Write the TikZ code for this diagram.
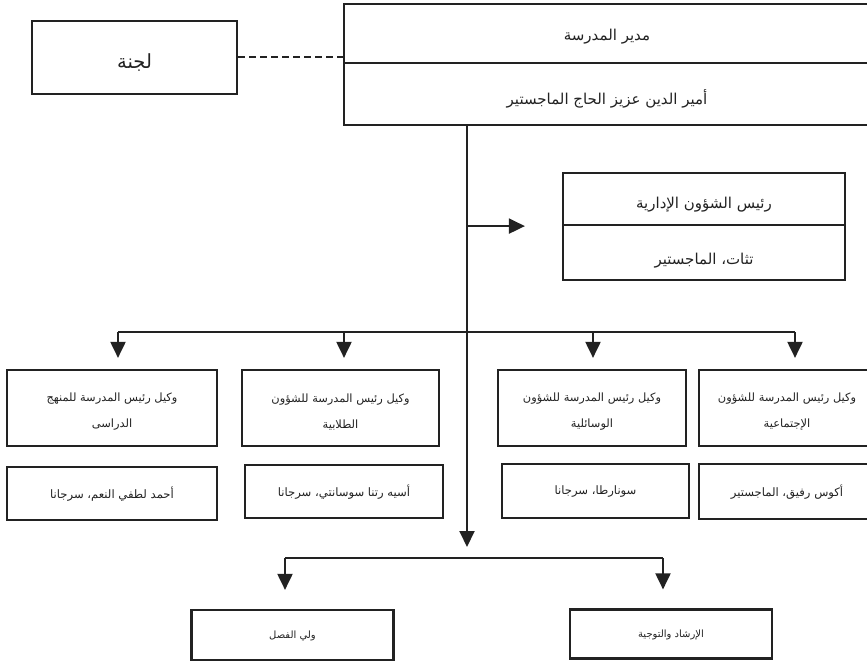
\documentclass[tikz,border=0pt]{standalone}
\usepackage{fontspec}
\usetikzlibrary{arrows.meta}
\TeXXeTstate=1
\newfontfamily\arabicfont[Script=Arabic]{DejaVu Sans}
\definecolor{ink}{HTML}{222222}
\newcommand{\artx}[2][0pt]{\raisebox{-#1}[\height][\depth]{\beginR #2\endR}}
\tikzset{
  box/.style={draw=ink, line width=2.2pt, rectangle, inner sep=0pt, align=center, text=ink},
  rowtxt/.style={font=\arabicfont\fontsize{11.4}{26}\selectfont},
  nametxt/.style={font=\arabicfont\fontsize{11.6}{14}\selectfont},
  bottxt/.style={font=\arabicfont\fontsize{10}{12}\selectfont},
  bigtxt/.style={font=\arabicfont\fontsize{15}{18}\selectfont},
  lajtxt/.style={font=\arabicfont\fontsize{19.5}{22}\selectfont},
  link/.style={draw=ink, line width=2pt},
  arr/.style={draw=ink, line width=2pt, -{Triangle[width=15pt,length=16pt]}},
  dashlink/.style={draw=ink, line width=2pt, dash pattern=on 7pt off 4pt}
}
\begin{document}
\begin{tikzpicture}[x=1pt,y=-1pt]
\useasboundingbox (0,0) rectangle (867,661);
% committee
\node[box, lajtxt, minimum width=205pt, minimum height=73pt] (lajna) at (134.5,57.5) {\artx[5pt]{لجنة}};
% head
\node[box, bigtxt, minimum width=526pt, minimum height=59pt] (mudir) at (607,33.5) {\artx[3.5pt]{مدير المدرسة}};
\node[box, bigtxt, minimum width=526pt, minimum height=62pt] (amir) at (607,94) {\artx[4.5pt]{أمير الدين عزيز الحاج الماجستير}};
% administration
\node[box, bigtxt, minimum width=282pt, minimum height=52pt] (idara) at (704,199) {\artx[6pt]{رئيس الشؤون الإدارية}};
\node[box, bigtxt, minimum width=282pt, minimum height=55pt] (tatat) at (704,252.5) {\artx[8pt]{تثات، الماجستير}};
% deputies
\node[box, rowtxt, minimum width=210pt, minimum height=76pt] (w1) at (112,408) {\artx[4pt]{وكيل رئيس المدرسة للمنهج}\\\artx[4pt]{الدراسى}};
\node[box, rowtxt, minimum width=197pt, minimum height=76pt] (w2) at (340.5,408) {\artx[4pt]{وكيل رئيس المدرسة للشؤون}\\\artx[4pt]{الطلابية}};
\node[box, rowtxt, minimum width=188pt, minimum height=76pt] (w3) at (592,408) {\artx[4pt]{وكيل رئيس المدرسة للشؤون}\\\artx[4pt]{الوسائلية}};
\node[box, rowtxt, minimum width=176pt, minimum height=76pt] (w4) at (787,408) {\artx[4pt]{وكيل رئيس المدرسة للشؤون}\\\artx[4pt]{الإجتماعية}};
% names
\node[box, nametxt, minimum width=210pt, minimum height=53pt] (n1) at (112,493.5) {\artx[1pt]{أحمد لطفي النعم، سرجانا}};
\node[box, nametxt, minimum width=198pt, minimum height=53pt] (n2) at (344,491.5) {\artx[1pt]{أسيه رتنا سوسانتي، سرجانا}};
\node[box, nametxt, minimum width=187pt, minimum height=54pt] (n3) at (595.5,491) {\artx[1pt]{سونارطا، سرجانا}};
\node[box, nametxt, minimum width=176pt, minimum height=55pt] (n4) at (787,491.5) {\artx[1pt]{أكوس رفيق، الماجستير}};
% bottom
\node[box, bottxt, minimum width=202pt, minimum height=50pt] (wali) at (292.5,635) {\artx[1pt]{ولي الفصل}};
\node[box, bottxt, minimum width=202pt, minimum height=49pt] (irshad) at (671,634) {\artx[1pt]{الإرشاد والتوجية}};
% junction points
\coordinate (tr) at (467,0);
\coordinate (c1) at (118,332);
\coordinate (c2) at (344,332);
\coordinate (c3) at (593,332);
\coordinate (c4) at (795,332);
\coordinate (lb) at (467,558);
\coordinate (l1) at (285,558);
\coordinate (l2) at (663,558);
% connectors
\draw[dashlink] (lajna.east) -- (lajna.east -| mudir.west);
\draw[arr, shorten >=11pt] (tr |- amir.south) -- (lb);
\draw[arr, shorten >=37pt] (tr |- idara.south) -- (idara.south west);
\draw[link] (c1) -- (c4);
\draw[arr, shorten >=11pt] (c1) -- (c1 |- w1.north);
\draw[arr, shorten >=11pt] (c2) -- (c2 |- w2.north);
\draw[arr, shorten >=11pt] (c3) -- (c3 |- w3.north);
\draw[arr, shorten >=11pt] (c4) -- (c4 |- w4.north);
\draw[link] (l1) -- (l2);
\draw[arr, shorten >=19pt] (l1) -- (l1 |- wali.north);
\draw[arr, shorten >=19pt] (l2) -- (l2 |- irshad.north);
\end{tikzpicture}
\end{document}
